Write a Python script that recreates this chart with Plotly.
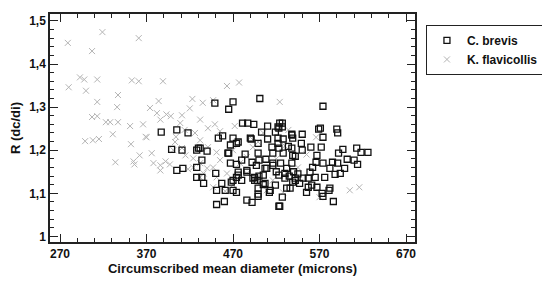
import plotly.graph_objects as go

# C. brevis (open squares)
brevis_x = [
    387, 405, 418, 449, 470, 465, 501, 481, 487, 494, 510, 503, 522, 453, 458, 470,
    574, 527, 523, 538, 550, 571, 574, 590, 591,
    399, 405, 412, 428, 432, 428, 428, 434, 436, 450, 451, 451, 460, 457, 468, 470,
    474, 467, 465, 474, 474, 476, 486, 492, 490, 486, 493, 497, 499, 500, 508, 512,
    516, 507, 522, 523,
    467, 476, 491, 519, 524, 527, 522, 528, 538, 539, 499, 510, 515, 523, 528, 534,
    539, 516, 499, 464, 484, 411, 430, 440, 434, 492, 480, 486, 495, 498, 505, 509,
    516, 525, 532, 538, 530, 523, 542, 532, 527, 519, 513, 507, 499, 499, 470, 461,
    524,
    569, 549, 550, 560, 572, 542, 538, 597, 592, 613, 618, 626, 567, 566, 574, 585,
    591, 602, 610, 614, 599, 594, 588, 582, 576, 562, 559, 565, 557, 551, 542, 539,
    547, 557, 561, 567, 582, 581, 573, 574, 586, 555, 536,
    540, 535, 545, 520, 530, 500, 495, 505, 474, 476, 480,
]
brevis_y = [
    1.242, 1.247, 1.240, 1.309, 1.312, 1.295, 1.320, 1.263, 1.263, 1.260, 1.256, 1.242, 1.254, 1.228, 1.233, 1.228,
    1.302, 1.263, 1.251, 1.235, 1.237, 1.251, 1.230, 1.249, 1.240,
    1.202, 1.153, 1.158, 1.200, 1.205, 1.160, 1.137, 1.137, 1.123, 1.146, 1.107, 1.074, 1.081, 1.123, 1.126, 1.107,
    1.102, 1.170, 1.193, 1.216, 1.167, 1.149, 1.084, 1.079, 1.228, 1.149, 1.135, 1.165, 1.098, 1.177, 1.179, 1.102,
    1.165, 1.158, 1.216, 1.070,
    1.212, 1.219, 1.226, 1.242, 1.263, 1.254, 1.228, 1.226, 1.237, 1.228, 1.216, 1.226, 1.207, 1.205, 1.193, 1.209,
    1.188, 1.193, 1.193, 1.193, 1.191, 1.200, 1.205, 1.198, 1.177, 1.172, 1.177, 1.153, 1.137, 1.130, 1.142, 1.158,
    1.170, 1.170, 1.158, 1.170, 1.146, 1.142, 1.130, 1.112, 1.091, 1.119, 1.107, 1.123, 1.112, 1.093, 1.130, 1.107,
    1.070,
    1.249, 1.216, 1.200, 1.207, 1.207, 1.186, 1.205, 1.202, 1.193, 1.205, 1.195, 1.195, 1.188, 1.172, 1.170, 1.172,
    1.170, 1.179, 1.177, 1.167, 1.158, 1.146, 1.144, 1.158, 1.137, 1.160, 1.149, 1.137, 1.135, 1.135, 1.135, 1.126,
    1.123, 1.114, 1.119, 1.114, 1.112, 1.107, 1.100, 1.093, 1.081, 1.102, 1.112,
    1.150, 1.140, 1.145, 1.150, 1.135, 1.140, 1.130, 1.120, 1.137, 1.142, 1.130,
]

# K. flavicollis (grey crosses)
flav_x = [
    279, 319, 307, 361, 280, 293, 298, 313, 300, 353, 361, 389, 337, 313, 336, 384,
    307, 313, 323, 328, 337, 351, 366, 374, 382, 393, 386, 398, 411, 423, 420, 432,
    435, 447, 463, 477, 441, 449, 369, 404, 414, 426, 409, 455, 472,
    299, 308, 315, 331, 352, 334, 355, 356, 362, 370, 376, 378, 386, 386, 392, 397,
    401, 411, 403, 415, 424, 418, 424, 432, 432, 436, 440, 447, 451, 463, 470, 447,
    461, 432, 441, 451, 455, 470, 478, 486, 493, 486, 493, 501, 509, 516, 499,
    566, 605, 616, 570, 524, 534, 528,
    520, 545, 505, 530, 555, 490,
]
flav_y = [
    1.449, 1.474, 1.430, 1.460, 1.346, 1.369, 1.364, 1.364, 1.338, 1.362, 1.360, 1.360, 1.328, 1.312, 1.300, 1.314,
    1.277, 1.279, 1.265, 1.265, 1.265, 1.256, 1.260, 1.298, 1.286, 1.283, 1.271, 1.279, 1.281, 1.319, 1.297, 1.271,
    1.310, 1.316, 1.349, 1.357, 1.251, 1.260, 1.231, 1.231, 1.247, 1.240, 1.263, 1.244, 1.256,
    1.221, 1.223, 1.226, 1.237, 1.214, 1.172, 1.174, 1.167, 1.188, 1.230, 1.193, 1.170, 1.165, 1.153, 1.174, 1.167,
    1.200, 1.205, 1.219, 1.188, 1.181, 1.156, 1.160, 1.170, 1.137, 1.146, 1.158, 1.160, 1.137, 1.146, 1.119, 1.114,
    1.105, 1.223, 1.207, 1.195, 1.177, 1.200, 1.170, 1.184, 1.207, 1.146, 1.135, 1.123, 1.107, 1.130, 1.219,
    1.230, 1.107, 1.114, 1.091, 1.312, 1.247, 1.102,
    1.180, 1.160, 1.240, 1.210, 1.190, 1.230,
]

x_ticks = [270, 370, 470, 570, 670]

font_main = dict(family="Liberation Sans, Arial, sans-serif", size=12, color="#111111", weight="bold")
font_title = dict(family="Liberation Sans, Arial, sans-serif", size=13, color="#111111", weight="bold")

fig = go.Figure()

fig.add_trace(
    go.Scatter(
        x=flav_x,
        y=flav_y,
        mode="markers",
        name="K. flavicollis",
        legendrank=2,
        marker=dict(symbol="x-thin-open", size=6, color="#b4b4b4", line=dict(width=1, color="#b4b4b4")),
    )
)

fig.add_trace(
    go.Scatter(
        x=brevis_x,
        y=brevis_y,
        mode="markers",
        name="C. brevis",
        legendrank=1,
        marker=dict(symbol="square-open", size=6, color="#111111", line=dict(width=1.3, color="#111111")),
    )
)

axis_common = dict(
    showline=True,
    linecolor="#222222",
    linewidth=1.5,
    mirror="allticks",
    ticks="inside",
    ticklen=8,
    tickwidth=1.2,
    tickcolor="#222222",
    showgrid=False,
    zeroline=False,
    automargin=False,
    tickfont=font_main,
)

# the page body adds an 8px offset, so margins are trimmed to compensate
fig.update_layout(
    width=550,
    height=285,
    margin=dict(l=42, r=143, t=6, b=51),
    paper_bgcolor="white",
    plot_bgcolor="white",
    separators=",.",
    xaxis=dict(
        range=[258.4, 680.4],
        tickvals=x_ticks,
        minor=dict(ticks="inside", dtick=20, tick0=270, ticklen=4, tickcolor="#222222", showgrid=False),
        title=dict(text="Circumscribed mean diameter (microns)", font=font_title, standoff=2),
        **axis_common,
    ),
    yaxis=dict(
        range=[0.987, 1.516],
        dtick=0.1,
        tick0=1,
        minor=dict(ticks="inside", dtick=0.02, tick0=1, ticklen=4, tickcolor="#222222", showgrid=False),
        title=dict(text="R (dc/di)", font=font_title, standoff=8),
        **axis_common,
    ),
    legend=dict(
        x=1.03,
        y=0.952,
        xanchor="left",
        yanchor="top",
        bordercolor="#222222",
        borderwidth=1,
        bgcolor="white",
        font=font_main,
        tracegroupgap=0,
        itemwidth=30,
    ),
)

fig.write_html("out.html")
